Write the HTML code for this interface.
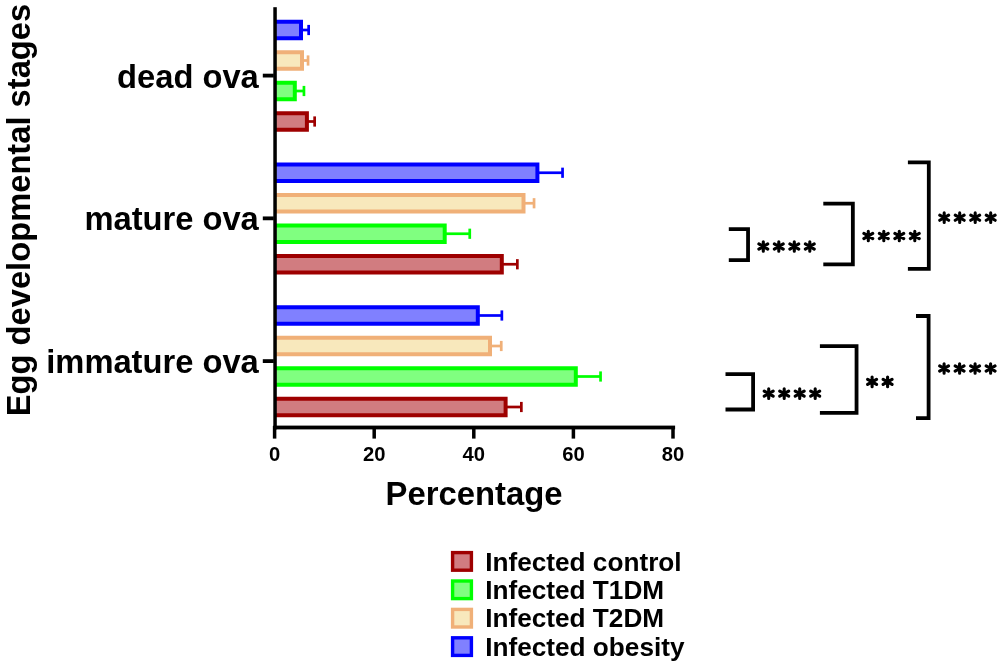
<!DOCTYPE html>
<html><head><meta charset="utf-8"><style>
html,body{margin:0;padding:0;background:#fff;}
svg{display:block;will-change:transform;font-family:"Liberation Sans",sans-serif;font-weight:bold;}
</style></head><body>
<svg width="1003" height="668" viewBox="0 0 1003 668">
<rect width="1003" height="668" fill="#fff"/>
<rect x="302.00" y="28.65" width="7.00" height="2.7" fill="#0000ff"/>
<rect x="307.30" y="24.90" width="2.7" height="10.2" fill="#0000ff"/>
<rect x="274.0" y="19.75" width="29.00" height="20.5" fill="#0000ff"/>
<rect x="274.0" y="23.75" width="25.00" height="12.50" fill="#8080ff"/>
<rect x="303.00" y="59.15" width="5.40" height="2.7" fill="#f0b078"/>
<rect x="306.70" y="55.40" width="2.7" height="10.2" fill="#f0b078"/>
<rect x="274.0" y="50.25" width="30.00" height="20.5" fill="#f0b078"/>
<rect x="274.0" y="54.25" width="26.00" height="12.50" fill="#f8e8bc"/>
<rect x="295.80" y="89.65" width="8.50" height="2.7" fill="#00ff00"/>
<rect x="302.60" y="85.90" width="2.7" height="10.2" fill="#00ff00"/>
<rect x="274.0" y="80.75" width="22.80" height="20.5" fill="#00ff00"/>
<rect x="274.0" y="84.75" width="18.80" height="12.50" fill="#80ff80"/>
<rect x="307.90" y="120.15" width="7.10" height="2.7" fill="#9e0000"/>
<rect x="313.30" y="116.40" width="2.7" height="10.2" fill="#9e0000"/>
<rect x="274.0" y="111.25" width="34.90" height="20.5" fill="#9e0000"/>
<rect x="274.0" y="115.25" width="30.90" height="12.50" fill="#d17c80"/>
<rect x="538.40" y="171.40" width="24.50" height="2.7" fill="#0000ff"/>
<rect x="561.20" y="167.65" width="2.7" height="10.2" fill="#0000ff"/>
<rect x="274.0" y="162.50" width="265.40" height="20.5" fill="#0000ff"/>
<rect x="274.0" y="166.50" width="261.40" height="12.50" fill="#8080ff"/>
<rect x="524.50" y="201.90" width="9.90" height="2.7" fill="#f0b078"/>
<rect x="532.70" y="198.15" width="2.7" height="10.2" fill="#f0b078"/>
<rect x="274.0" y="193.00" width="251.50" height="20.5" fill="#f0b078"/>
<rect x="274.0" y="197.00" width="247.50" height="12.50" fill="#f8e8bc"/>
<rect x="445.70" y="232.40" width="24.40" height="2.7" fill="#00ff00"/>
<rect x="468.40" y="228.65" width="2.7" height="10.2" fill="#00ff00"/>
<rect x="274.0" y="223.50" width="172.70" height="20.5" fill="#00ff00"/>
<rect x="274.0" y="227.50" width="168.70" height="12.50" fill="#80ff80"/>
<rect x="502.80" y="262.90" width="14.90" height="2.7" fill="#9e0000"/>
<rect x="516.00" y="259.15" width="2.7" height="10.2" fill="#9e0000"/>
<rect x="274.0" y="254.00" width="229.80" height="20.5" fill="#9e0000"/>
<rect x="274.0" y="258.00" width="225.80" height="12.50" fill="#d17c80"/>
<rect x="478.80" y="314.15" width="23.40" height="2.7" fill="#0000ff"/>
<rect x="500.50" y="310.40" width="2.7" height="10.2" fill="#0000ff"/>
<rect x="274.0" y="305.25" width="205.80" height="20.5" fill="#0000ff"/>
<rect x="274.0" y="309.25" width="201.80" height="12.50" fill="#8080ff"/>
<rect x="491.00" y="344.65" width="10.60" height="2.7" fill="#f0b078"/>
<rect x="499.90" y="340.90" width="2.7" height="10.2" fill="#f0b078"/>
<rect x="274.0" y="335.75" width="218.00" height="20.5" fill="#f0b078"/>
<rect x="274.0" y="339.75" width="214.00" height="12.50" fill="#f8e8bc"/>
<rect x="576.80" y="375.15" width="24.10" height="2.7" fill="#00ff00"/>
<rect x="599.20" y="371.40" width="2.7" height="10.2" fill="#00ff00"/>
<rect x="274.0" y="366.25" width="303.80" height="20.5" fill="#00ff00"/>
<rect x="274.0" y="370.25" width="299.80" height="12.50" fill="#80ff80"/>
<rect x="506.60" y="405.65" width="15.10" height="2.7" fill="#9e0000"/>
<rect x="520.00" y="401.90" width="2.7" height="10.2" fill="#9e0000"/>
<rect x="274.0" y="396.75" width="233.60" height="20.5" fill="#9e0000"/>
<rect x="274.0" y="400.75" width="229.60" height="12.50" fill="#d17c80"/>
<rect x="273.3" y="7.2" width="3.5" height="422.2" fill="#000"/>
<rect x="273.3" y="425.6" width="401.8" height="3.8" fill="#000"/>
<rect x="272.85" y="426" width="3.5" height="12.6" fill="#000"/>
<text x="274.60" y="460.9" text-anchor="middle" font-size="20.2">0</text>
<rect x="372.45" y="426" width="3.5" height="12.6" fill="#000"/>
<text x="374.20" y="460.9" text-anchor="middle" font-size="20.2">20</text>
<rect x="472.05" y="426" width="3.5" height="12.6" fill="#000"/>
<text x="473.80" y="460.9" text-anchor="middle" font-size="20.2">40</text>
<rect x="571.65" y="426" width="3.5" height="12.6" fill="#000"/>
<text x="573.40" y="460.9" text-anchor="middle" font-size="20.2">60</text>
<rect x="671.25" y="426" width="3.5" height="12.6" fill="#000"/>
<text x="673.00" y="460.9" text-anchor="middle" font-size="20.2">80</text>
<rect x="262.8" y="73.70" width="11" height="3.8" fill="#000"/>
<rect x="262.8" y="216.45" width="11" height="3.8" fill="#000"/>
<rect x="262.8" y="359.20" width="11" height="3.8" fill="#000"/>
<text x="258.8" y="87.50" text-anchor="end" font-size="32.7">dead ova</text>
<text x="258.8" y="230.25" text-anchor="end" font-size="32.7">mature ova</text>
<text x="258.8" y="373.00" text-anchor="end" font-size="32.7">immature ova</text>
<text x="385.6" y="505.4" font-size="32.8">Percentage</text>
<text transform="translate(30.4,416.2) rotate(-90)" font-size="32.7">Egg developmental stages</text>
<path d="M728.8 229.05H748.05V260.2H728.8" fill="none" stroke="#000" stroke-width="3.8" stroke-linejoin="miter"/>
<path d="M823.3 203.6H852.85V264.45H823.3" fill="none" stroke="#000" stroke-width="3.8" stroke-linejoin="miter"/>
<path d="M907.9 162.35H928.8V268.9H907.9" fill="none" stroke="#000" stroke-width="3.8" stroke-linejoin="miter"/>
<path d="M725.5 374.1H753.1V409.5H725.5" fill="none" stroke="#000" stroke-width="3.8" stroke-linejoin="miter"/>
<path d="M819.9 346.15H856.55V412.8H819.9" fill="none" stroke="#000" stroke-width="3.8" stroke-linejoin="miter"/>
<path d="M916.0 316.0H928.6V418.2H916.0" fill="none" stroke="#000" stroke-width="3.8" stroke-linejoin="miter"/>
<path d="M763.30 241.70V251.30M758.85 243.95L767.75 249.05M758.85 249.05L767.75 243.95M778.80 241.70V251.30M774.35 243.95L783.25 249.05M774.35 249.05L783.25 243.95M794.30 241.70V251.30M789.85 243.95L798.75 249.05M789.85 249.05L798.75 243.95M809.80 241.70V251.30M805.35 243.95L814.25 249.05M805.35 249.05L814.25 243.95M868.30 231.20V240.80M863.85 233.45L872.75 238.55M863.85 238.55L872.75 233.45M883.80 231.20V240.80M879.35 233.45L888.25 238.55M879.35 238.55L888.25 233.45M899.30 231.20V240.80M894.85 233.45L903.75 238.55M894.85 238.55L903.75 233.45M914.80 231.20V240.80M910.35 233.45L919.25 238.55M910.35 238.55L919.25 233.45M944.20 212.90V222.50M939.75 215.15L948.65 220.25M939.75 220.25L948.65 215.15M959.70 212.90V222.50M955.25 215.15L964.15 220.25M955.25 220.25L964.15 215.15M975.20 212.90V222.50M970.75 215.15L979.65 220.25M970.75 220.25L979.65 215.15M990.70 212.90V222.50M986.25 215.15L995.15 220.25M986.25 220.25L995.15 215.15M768.70 388.80V398.40M764.25 391.05L773.15 396.15M764.25 396.15L773.15 391.05M784.20 388.80V398.40M779.75 391.05L788.65 396.15M779.75 396.15L788.65 391.05M799.70 388.80V398.40M795.25 391.05L804.15 396.15M795.25 396.15L804.15 391.05M815.20 388.80V398.40M810.75 391.05L819.65 396.15M810.75 396.15L819.65 391.05M872.10 377.05V386.65M867.65 379.30L876.55 384.40M867.65 384.40L876.55 379.30M887.60 377.05V386.65M883.15 379.30L892.05 384.40M883.15 384.40L892.05 379.30M944.10 363.70V373.30M939.65 365.95L948.55 371.05M939.65 371.05L948.55 365.95M959.60 363.70V373.30M955.15 365.95L964.05 371.05M955.15 371.05L964.05 365.95M975.10 363.70V373.30M970.65 365.95L979.55 371.05M970.65 371.05L979.55 365.95M990.60 363.70V373.30M986.15 365.95L995.05 371.05M986.15 371.05L995.05 365.95" fill="none" stroke="#000" stroke-width="3.1" stroke-linecap="round"/>
<rect x="450.9" y="550.90" width="22.2" height="21" fill="#9e0000"/>
<rect x="454.30" y="554.30" width="15.40" height="14.20" fill="#d17c80"/>
<text x="485.2" y="570.60" font-size="26.2">Infected control</text>
<rect x="450.9" y="579.30" width="22.2" height="21" fill="#00ff00"/>
<rect x="454.30" y="582.70" width="15.40" height="14.20" fill="#80ff80"/>
<text x="485.2" y="599.00" font-size="26.2">Infected T1DM</text>
<rect x="450.9" y="607.70" width="22.2" height="21" fill="#f0b078"/>
<rect x="454.30" y="611.10" width="15.40" height="14.20" fill="#f8e8bc"/>
<text x="485.2" y="627.40" font-size="26.2">Infected T2DM</text>
<rect x="450.9" y="636.10" width="22.2" height="21" fill="#0000ff"/>
<rect x="454.30" y="639.50" width="15.40" height="14.20" fill="#8080ff"/>
<text x="485.2" y="655.80" font-size="26.2">Infected obesity</text>
</svg>
</body></html>
